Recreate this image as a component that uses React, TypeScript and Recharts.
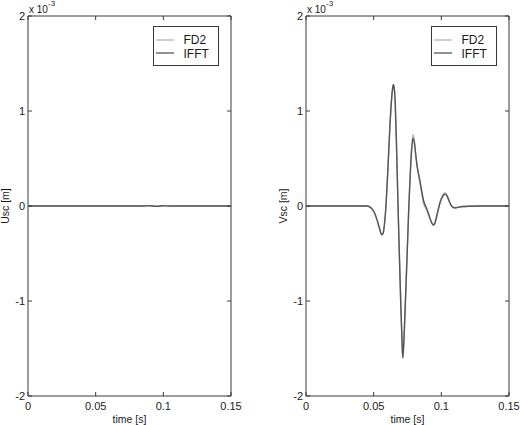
import { LineChart, Line, XAxis, YAxis, ReferenceArea, Legend } from 'recharts';

// time axis [s] and displacements (x 10^-3 m)
const timeV = [
  0, 0.01, 0.02, 0.03, 0.04, 0.045, 0.046, 0.047, 0.048, 0.049,
  0.05, 0.051, 0.052, 0.053, 0.054, 0.055, 0.056, 0.057, 0.058, 0.059,
  0.06, 0.061, 0.062, 0.063, 0.064, 0.0645, 0.065, 0.066, 0.067, 0.068,
  0.069, 0.07, 0.071, 0.0715, 0.072, 0.073, 0.074, 0.075, 0.076, 0.077,
  0.078, 0.079, 0.08, 0.081, 0.082, 0.083, 0.084, 0.085, 0.086, 0.087,
  0.088, 0.089, 0.09, 0.091, 0.092, 0.093, 0.094, 0.095, 0.096, 0.097,
  0.098, 0.099, 0.1, 0.101, 0.102, 0.103, 0.104, 0.105, 0.106, 0.107,
  0.108, 0.109, 0.11, 0.111, 0.113, 0.116, 0.12, 0.13, 0.14, 0.15,
];

const vscIFFT = [
  0, 0, 0, 0, 0, 0, -0.003, -0.01, -0.02, -0.035,
  -0.055, -0.085, -0.125, -0.17, -0.22, -0.27, -0.305, -0.29, -0.19, -0.02,
  0.24, 0.54, 0.84, 1.08, 1.24, 1.28, 1.26, 1.06, 0.57, 0.0,
  -0.52, -1.02, -1.45, -1.6, -1.52, -1.18, -0.8, -0.4, 0.0, 0.32,
  0.58, 0.71, 0.67, 0.55, 0.43, 0.35, 0.28, 0.2, 0.12, 0.05,
  0.01, -0.02, -0.06, -0.1, -0.145, -0.18, -0.2, -0.19, -0.145, -0.085,
  -0.025, 0.03, 0.07, 0.1, 0.12, 0.125, 0.11, 0.08, 0.045, 0.015,
  -0.005, -0.015, -0.02, -0.018, -0.012, -0.006, -0.002, 0, 0, 0,
];

const vscFD2 = [
  0, 0, 0, 0, 0, 0, -0.003, -0.01, -0.02, -0.035,
  -0.055, -0.085, -0.125, -0.17, -0.22, -0.27, -0.3, -0.285, -0.185, -0.02,
  0.24, 0.53, 0.83, 1.07, 1.23, 1.27, 1.25, 1.05, 0.57, 0.01,
  -0.5, -1.0, -1.43, -1.58, -1.5, -1.17, -0.79, -0.39, 0.01, 0.34,
  0.6, 0.75, 0.7, 0.56, 0.43, 0.34, 0.26, 0.17, 0.09, 0.02,
  -0.01, -0.035, -0.07, -0.11, -0.15, -0.18, -0.195, -0.18, -0.13, -0.07,
  -0.01, 0.045, 0.085, 0.115, 0.135, 0.14, 0.12, 0.085, 0.045, 0.01,
  -0.01, -0.02, -0.022, -0.018, -0.012, -0.006, -0.002, 0, 0, 0,
];

const timeU = [0, 0.03, 0.06, 0.085, 0.09, 0.095, 0.1, 0.105, 0.12, 0.15];
const uscIFFT = [0, 0, 0, 0, 0.003, -0.004, 0.003, 0, 0, 0];
const uscFD2 = [0, 0, 0, 0, 0.004, -0.005, 0.004, 0, 0, 0];

const xTicks = [0, 0.05, 0.1, 0.15];
const yTicks = [-2, -1, 0, 1, 2];

const FONT = '"Liberation Sans", Arial, Helvetica, sans-serif';
const AXIS = '#3a3a3a';
const TEXT = '#1a1a1a';
const FD2_COLOR = '#b4b4b4';
const IFFT_COLOR = '#555555';

const TOP = 16;
const PLOT_H = 380;
const PLOT_W = 203;
const CHART_W = 260;
const CHART_H = 425;

const XTick = ({ x, y, payload }: any) => (
  <g>
    <line x1={x} x2={x} y1={y} y2={y - 4} stroke={AXIS} />
    <line x1={x} x2={x} y1={y - PLOT_H} y2={y - PLOT_H + 4} stroke={AXIS} />
    <text x={x} y={y + 13.5} textAnchor="middle" fontSize={11} fill={TEXT} fontFamily={FONT}>
      {payload.value}
    </text>
  </g>
);

const YTick = ({ x, y, payload }: any) => (
  <g>
    <line x1={x} x2={x + 4} y1={y} y2={y} stroke={AXIS} />
    <line x1={x + PLOT_W} x2={x + PLOT_W - 4} y1={y} y2={y} stroke={AXIS} />
    <text x={x - 3} y={y + 4} textAnchor="end" fontSize={11} fill={TEXT} fontFamily={FONT}>
      {payload.value}
    </text>
  </g>
);

const YLabel = ({ text, plotLeft }: { text: string; plotLeft: number }) => {
  const cx = plotLeft - 23;
  const cy = TOP + PLOT_H / 2;
  return (
    <g fontFamily={FONT} fill={TEXT}>
      <text x={cx} y={cy} transform={`rotate(-90, ${cx}, ${cy})`} textAnchor="middle" dominantBaseline="central" fontSize={10.5}>
        {text}
      </text>
      <text x={plotLeft + 1} y={12.7} fontSize={10}>x 10</text>
      <text x={plotLeft + 20} y={6} fontSize={8}>-3</text>
    </g>
  );
};

const XLabel = ({ plotLeft }: { plotLeft: number }) => (
  <text x={plotLeft + PLOT_W / 2} y={423} textAnchor="middle" fontSize={10.5} fill={TEXT} fontFamily={FONT}>
    time [s]
  </text>
);

const LegendBox = () => (
  <svg width={66} height={40} style={{ display: 'block' }}>
    <rect x={0.5} y={0.5} width={65} height={39} fill="#fff" stroke={AXIS} />
    <line x1={3} x2={21} y1={14} y2={14} stroke={FD2_COLOR} strokeWidth={1.3} />
    <line x1={3} x2={21} y1={27} y2={27} stroke={IFFT_COLOR} strokeWidth={1.3} />
    <text x={30.5} y={18.3} fontSize={12} fill={TEXT} fontFamily={FONT}>FD2</text>
    <text x={30.5} y={31.5} fontSize={12} fill={TEXT} fontFamily={FONT}>IFFT</text>
  </svg>
);

type PanelProps = {
  rows: Array<{ t: number; fd2: number; ifft: number }>;
  yLabel: string;
  plotLeft: number;
};

const Panel = ({ rows, yLabel, plotLeft }: PanelProps) => (
  <LineChart
    width={CHART_W}
    height={CHART_H}
    data={rows}
    margin={{ top: TOP, right: CHART_W - plotLeft - PLOT_W, bottom: CHART_H - TOP - PLOT_H - 20, left: plotLeft - 20 }}
  >
    <XAxis
      dataKey="t"
      type="number"
      domain={[0, 0.15]}
      ticks={xTicks}
      interval={0}
      height={20}
      axisLine={false}
      tickLine={false}
      tickSize={0}
      tickMargin={0}
      tick={(p: any) => <XTick {...p} />}
      label={<XLabel plotLeft={plotLeft} />}
    />
    <YAxis
      type="number"
      domain={[-2, 2]}
      ticks={yTicks}
      interval={0}
      width={20}
      axisLine={false}
      tickLine={false}
      tickSize={0}
      tickMargin={0}
      tick={(p: any) => <YTick {...p} />}
      label={<YLabel text={yLabel} plotLeft={plotLeft} />}
    />
    <ReferenceArea x1={0} x2={0.15} y1={-2} y2={2} fill="none" stroke={AXIS} strokeWidth={1} />
    <Line type="monotone" dataKey="fd2" stroke={FD2_COLOR} strokeWidth={1.4} dot={false} isAnimationActive={false} />
    <Line type="monotone" dataKey="ifft" stroke={IFFT_COLOR} strokeWidth={1.4} dot={false} isAnimationActive={false} />
    <Legend
      layout="horizontal"
      verticalAlign="middle"
      align="center"
      wrapperStyle={{ left: plotLeft + 125, top: 26, width: 66, height: 40 }}
      content={() => <LegendBox />}
    />
  </LineChart>
);

export default function App() {
  const rowsU = timeU.map((t, i) => ({ t, fd2: uscFD2[i], ifft: uscIFFT[i] }));
  const rowsV = timeV.map((t, i) => ({ t, fd2: vscFD2[i], ifft: vscIFFT[i] }));
  return (
    <div style={{ position: 'absolute', left: 0, top: 0, width: 520, height: 425, background: '#fff' }}>
      <div style={{ position: 'absolute', left: 0, top: 0 }}>
        <Panel rows={rowsU} yLabel="Usc [m]" plotLeft={28} />
      </div>
      <div style={{ position: 'absolute', left: 260, top: 0 }}>
        <Panel rows={rowsV} yLabel="Vsc [m]" plotLeft={46} />
      </div>
    </div>
  );
}
